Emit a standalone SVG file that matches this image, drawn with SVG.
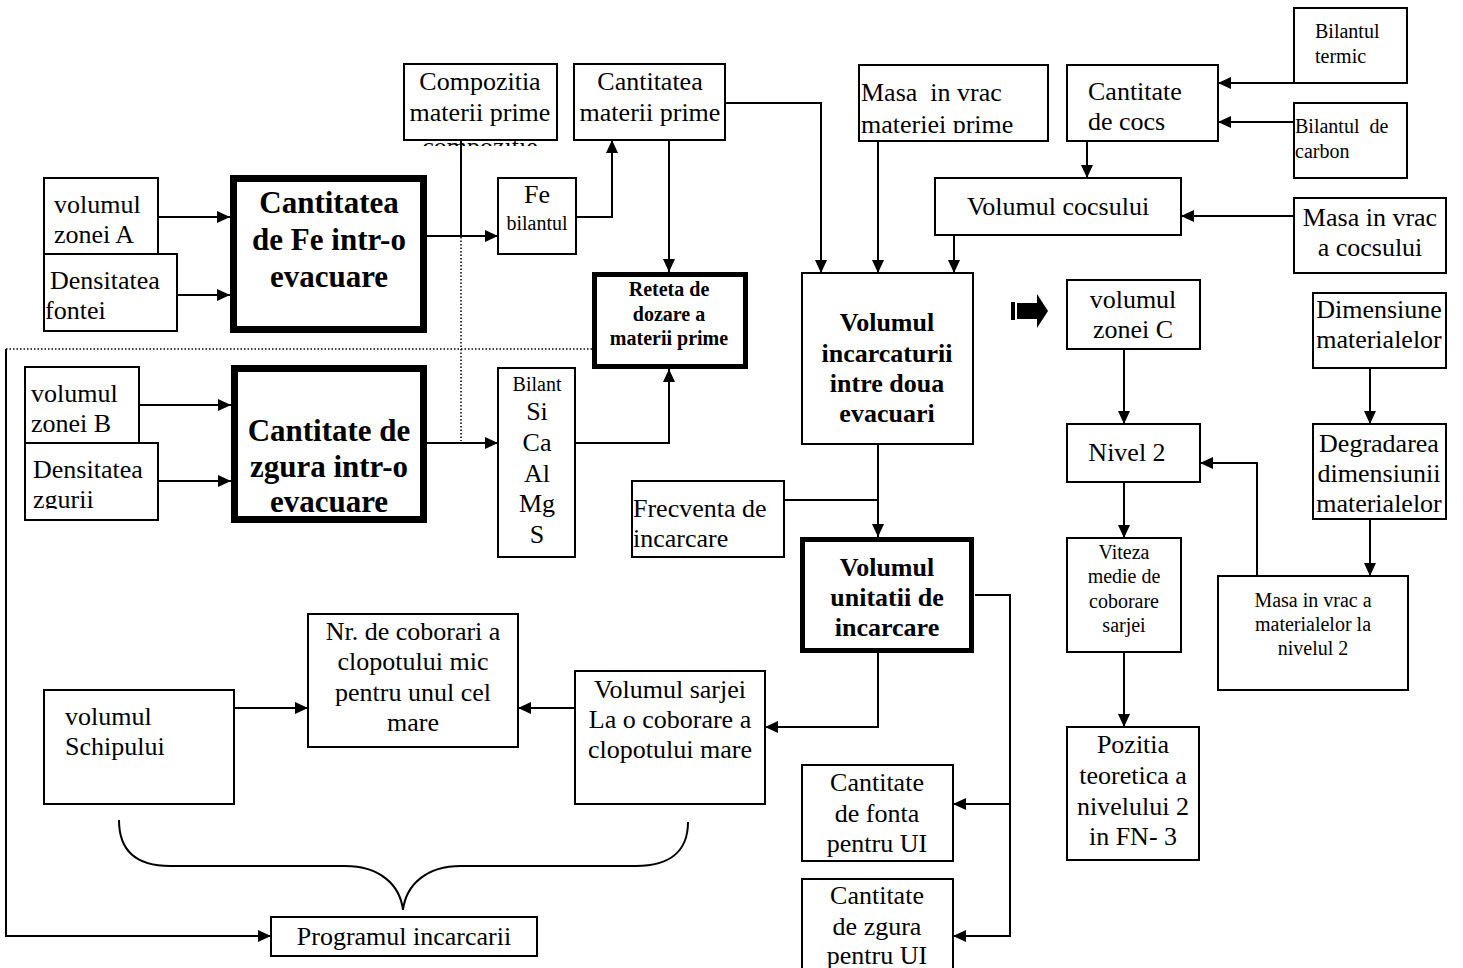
<svg xmlns="http://www.w3.org/2000/svg" width="1463" height="968" viewBox="0 0 1463 968">
<style>
.box{fill:#fff;stroke:#000;stroke-width:2}
.thick{fill:#fff;stroke:#000;stroke-width:7}
.thick5{fill:#fff;stroke:#000;stroke-width:5}
.t{font-family:"Liberation Serif","Times New Roman",serif;font-size:26px;fill:#000}
.c{text-anchor:middle}
.b{font-weight:bold}
.s{font-size:20px}
.bb{font-size:31px}
.pre{white-space:pre}
.ln{fill:none;stroke:#000;stroke-width:2}
.dot{fill:none;stroke:#000;stroke-width:1.5;stroke-dasharray:1.5 2}
</style>
<defs>
<marker id="ah" markerUnits="userSpaceOnUse" markerWidth="14" markerHeight="12" refX="13" refY="6" orient="auto">
<path d="M0,0 L13,6 L0,12 z" fill="#000"/>
</marker>
<clipPath id="clipComp"><rect x="404" y="140" width="153" height="6"/></clipPath>
<clipPath id="clipMasa"><rect x="855" y="66" width="192" height="67"/></clipPath>
<clipPath id="clipZg"><rect x="20" y="444" width="137" height="65"/></clipPath>
</defs>
<rect width="1463" height="968" fill="#fff"/>

<g id="connectors">
<path class="ln" d="M158,217 H230" marker-end="url(#ah)"/>
<path class="ln" d="M177,295 H230" marker-end="url(#ah)"/>
<path class="ln" d="M427,236 H498" marker-end="url(#ah)"/>
<path class="ln" d="M461,140 V236"/>
<path class="dot" d="M461,237 V441"/>
<path class="ln" d="M576,217 H612 V140" marker-end="url(#ah)"/>
<path class="ln" d="M669,140 V272" marker-end="url(#ah)"/>
<path class="ln" d="M725,103 H821 V273" marker-end="url(#ah)"/>
<path class="ln" d="M878,141 V273" marker-end="url(#ah)"/>
<path class="ln" d="M1087,141 V178" marker-end="url(#ah)"/>
<path class="ln" d="M1294,83 H1218" marker-end="url(#ah)"/>
<path class="ln" d="M1294,122 H1218" marker-end="url(#ah)"/>
<path class="ln" d="M1294,216 H1181" marker-end="url(#ah)"/>
<path class="ln" d="M954,235 V273" marker-end="url(#ah)"/>
<path class="ln" d="M139,405 H231" marker-end="url(#ah)"/>
<path class="ln" d="M158,481 H231" marker-end="url(#ah)"/>
<path class="ln" d="M427,443 H498" marker-end="url(#ah)"/>
<path class="ln" d="M575,443 H669 V369" marker-end="url(#ah)"/>
<path class="dot" d="M6,349 H592"/>
<path class="ln" d="M6,349 V936 H271" marker-end="url(#ah)"/>
<path class="ln" d="M878,444 V537" marker-end="url(#ah)"/>
<path class="ln" d="M784,500 H878"/>
<path class="ln" d="M878,653 V727 H765" marker-end="url(#ah)"/>
<path class="ln" d="M975,595 H1010 V936 H953" marker-end="url(#ah)"/>
<path class="ln" d="M1010,804 H953" marker-end="url(#ah)"/>
<path class="ln" d="M1124,349 V424" marker-end="url(#ah)"/>
<path class="ln" d="M1124,482 V538" marker-end="url(#ah)"/>
<path class="ln" d="M1124,652 V727" marker-end="url(#ah)"/>
<path class="ln" d="M1257,576 V463 H1200" marker-end="url(#ah)"/>
<path class="ln" d="M1370,368 V424" marker-end="url(#ah)"/>
<path class="ln" d="M1370,519 V576" marker-end="url(#ah)"/>
<path class="ln" d="M234,708 H308" marker-end="url(#ah)"/>
<path class="ln" d="M575,708 H518" marker-end="url(#ah)"/>
<path class="ln" d="M119,820 C119,850 135,866 170,866 L345,866 C380,866 400,885 403,910 C406,885 426,866 461,866 L636,866 C671,866 688,850 688,822"/>
<g id="blockArrow">
<rect x="1011" y="302" width="4" height="18" fill="#000"/>
<path d="M1017,303 H1037 V294 L1048,311 L1037,328 V319 H1017 z" fill="#000"/>
</g>
</g>

<g id="n_zonaA"><rect class="box" x="44" y="178" width="114" height="76"/>
<text class="t" x="54" y="213">volumul</text><text class="t" x="54" y="243">zonei A</text></g>
<g id="n_densFontei"><rect class="box" x="44" y="254" width="133" height="77"/>
<text class="t" x="50" y="289">Densitatea</text><text class="t" x="45" y="319">fontei</text></g>
<g id="n_cantFe"><rect class="thick" x="233.5" y="178.5" width="190" height="151"/>
<text class="t b bb c" x="329" y="213">Cantitatea</text><text class="t b bb c" x="329" y="250">de Fe intr-o</text><text class="t b bb c" x="329" y="287">evacuare</text></g>
<g id="n_compozitia"><rect class="box" x="404" y="64" width="153" height="76"/>
<text class="t c" x="480" y="90">Compozitia</text><text class="t c" x="480" y="121">materii prime</text>
<text class="t c" x="480" y="155" clip-path="url(#clipComp)">compozitie</text></g>
<g id="n_cantMP"><rect class="box" x="574" y="64" width="151" height="76"/>
<text class="t c" x="650" y="90">Cantitatea</text><text class="t c" x="650" y="121">materii prime</text></g>
<g id="n_feBilant"><rect class="box" x="498" y="178" width="78" height="76"/>
<text class="t c" x="537" y="203">Fe</text><text class="t s c" x="537" y="230">bilantul</text></g>
<g id="n_masaMP"><rect class="box" x="859" y="65" width="189" height="76"/>
<g clip-path="url(#clipMasa)"><text class="t pre" x="861" y="101">Masa  in vrac</text><text class="t" x="861" y="133">materiei prime</text></g></g>
<g id="n_cantCocs"><rect class="box" x="1067" y="65" width="151" height="76"/>
<text class="t" x="1088" y="100">Cantitate</text><text class="t" x="1088" y="130">de cocs</text></g>
<g id="n_bilTermic"><rect class="box" x="1294" y="8" width="113" height="75"/>
<text class="t s" x="1315" y="38">Bilantul</text><text class="t s" x="1315" y="63">termic</text></g>
<g id="n_bilCarbon"><rect class="box" x="1294" y="103" width="113" height="75"/>
<text class="t s pre" x="1295" y="133">Bilantul  de</text><text class="t s" x="1295" y="158">carbon</text></g>
<g id="n_volCocs"><rect class="box" x="935" y="178" width="246" height="57"/>
<text class="t c" x="1058" y="215">Volumul cocsului</text></g>
<g id="n_masaCocs"><rect class="box" x="1294" y="198" width="152" height="75"/>
<text class="t c" x="1370" y="226">Masa in vrac</text><text class="t c" x="1370" y="256">a cocsului</text></g>
<g id="n_zonaB"><rect class="box" x="25" y="367" width="114" height="76"/>
<text class="t" x="31" y="402">volumul</text><text class="t" x="31" y="432">zonei B</text></g>
<g id="n_densZgurii"><rect class="box" x="25" y="443" width="133" height="77"/>
<g clip-path="url(#clipZg)"><text class="t" x="33" y="478">Densitatea</text><text class="t" x="33" y="508">zgurii</text></g></g>
<g id="n_cantZgura"><rect class="thick" x="234.5" y="368.5" width="189" height="151"/>
<text class="t b bb c" x="329" y="441">Cantitate de</text><text class="t b bb c" x="329" y="477">zgura intr-o</text><text class="t b bb c" x="329" y="512">evacuare</text></g>
<g id="n_bilant"><rect class="box" x="498" y="368" width="77" height="189"/>
<text class="t s c" x="537" y="391">Bilant</text><text class="t c" x="537" y="420">Si</text><text class="t c" x="537" y="451">Ca</text><text class="t c" x="537" y="482">Al</text><text class="t c" x="537" y="512">Mg</text><text class="t c" x="537" y="543">S</text></g>
<g id="n_reteta"><rect class="thick5" x="594.5" y="274.5" width="151" height="92"/>
<text class="t b s c" x="669" y="296">Reteta de</text><text class="t b s c" x="669" y="321">dozare a</text><text class="t b s c" x="669" y="345">materii prime</text></g>
<g id="n_frecventa"><rect class="box" x="632" y="481" width="152" height="76"/>
<text class="t" x="633" y="517">Frecventa de</text><text class="t" x="633" y="547">incarcare</text></g>
<g id="n_volInc"><rect class="box" x="802" y="273" width="171" height="171"/>
<text class="t b c" x="887" y="331">Volumul</text><text class="t b c" x="887" y="362">incarcaturii</text><text class="t b c" x="887" y="392">intre doua</text><text class="t b c" x="887" y="422">evacuari</text></g>
<g id="n_volUnit"><rect class="thick5" x="802.5" y="539.5" width="169" height="111"/>
<text class="t b c" x="887" y="576">Volumul</text><text class="t b c" x="887" y="606">unitatii de</text><text class="t b c" x="887" y="636">incarcare</text></g>
<g id="n_zonaC"><rect class="box" x="1067" y="280" width="133" height="69"/>
<text class="t c" x="1133" y="308">volumul</text><text class="t c" x="1133" y="338">zonei C</text></g>
<g id="n_nivel2"><rect class="box" x="1067" y="424" width="133" height="58"/>
<text class="t c" x="1127" y="461">Nivel 2</text></g>
<g id="n_viteza"><rect class="box" x="1067" y="538" width="114" height="114"/>
<text class="t s c" x="1124" y="559">Viteza</text><text class="t s c" x="1124" y="583">medie de</text><text class="t s c" x="1124" y="608">coborare</text><text class="t s c" x="1124" y="632">sarjei</text></g>
<g id="n_pozitia"><rect class="box" x="1067" y="727" width="132" height="133"/>
<text class="t c" x="1133" y="753">Pozitia</text><text class="t c" x="1133" y="784">teoretica a</text><text class="t c" x="1133" y="815">nivelului 2</text><text class="t c" x="1133" y="845">in FN- 3</text></g>
<g id="n_dimensiune"><rect class="box" x="1313" y="293" width="133" height="75"/>
<text class="t c" x="1379" y="318">Dimensiune</text><text class="t c" x="1379" y="348">materialelor</text></g>
<g id="n_degradarea"><rect class="box" x="1313" y="424" width="133" height="95"/>
<text class="t c" x="1379" y="452">Degradarea</text><text class="t c" x="1379" y="482">dimensiunii</text><text class="t c" x="1379" y="512">materialelor</text></g>
<g id="n_masaMat"><rect class="box" x="1218" y="576" width="190" height="114"/>
<text class="t s c" x="1313" y="607">Masa in vrac a</text><text class="t s c" x="1313" y="631">materialelor la</text><text class="t s c" x="1313" y="655">nivelul 2</text></g>
<g id="n_nrCoborari"><rect class="box" x="308" y="614" width="210" height="133"/>
<text class="t c" x="413" y="640">Nr. de coborari a</text><text class="t c" x="413" y="670">clopotului mic</text><text class="t c" x="413" y="701">pentru unul cel</text><text class="t c" x="413" y="731">mare</text></g>
<g id="n_schip"><rect class="box" x="44" y="690" width="190" height="114"/>
<text class="t" x="65" y="725">volumul</text><text class="t" x="65" y="755">Schipului</text></g>
<g id="n_sarjei"><rect class="box" x="575" y="671" width="190" height="133"/>
<text class="t c" x="670" y="698">Volumul sarjei</text><text class="t c" x="670" y="728">La o coborare a</text><text class="t c" x="670" y="758">clopotului mare</text></g>
<g id="n_fontaUI"><rect class="box" x="802" y="765" width="151" height="96"/>
<text class="t c" x="877" y="791">Cantitate</text><text class="t c" x="877" y="822">de fonta</text><text class="t c" x="877" y="852">pentru UI</text></g>
<g id="n_zguraUI"><rect class="box" x="802" y="879" width="151" height="100"/>
<text class="t c" x="877" y="904">Cantitate</text><text class="t c" x="877" y="935">de zgura</text><text class="t c" x="877" y="964">pentru UI</text></g>
<g id="n_program"><rect class="box" x="271" y="917" width="266" height="39"/>
<text class="t c" x="404" y="945">Programul incarcarii</text></g>
</svg>
